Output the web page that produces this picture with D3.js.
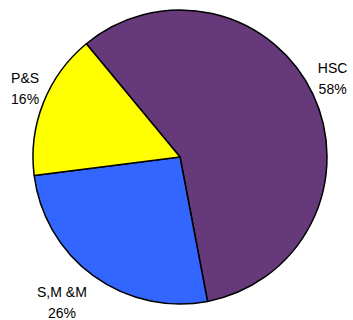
<!DOCTYPE html>
<html lang="en">
<head>
    <meta charset="UTF-8" />
    <title>Pie</title>
    <script src="https://d3js.org/d3.v7.min.js"></script>
    <style>
        body { margin: 0; background: #fff; }
        text { font-family: "Liberation Sans", Arial, sans-serif; font-size: 14px; fill: #000; }
    </style>
</head>
<body>
    <svg id="chart"></svg>
    <script>
        const labels = ["HSC", "S,M &M", "P&S"];
        const values = [58, 26, 16];
        const colors = ["#663a7a", "#3366ff", "#ffff00"];

        const width = 353, height = 320;
        const cx = 180, cy = 157, r = 147;

        const svg = d3.select("#chart")
            .attr("width", width)
            .attr("height", height);

        const g = svg.append("g").attr("transform", `translate(${cx},${cy})`);

        // start so that the P&S / HSC edge points up-left
        const start = -39.6 * Math.PI / 180;
        const pie = d3.pie().sort(null).value(d => d)
            .startAngle(start).endAngle(start + 2 * Math.PI);
        const arcs = pie(values);

        const arc = d3.arc().innerRadius(0).outerRadius(r);

        g.selectAll("path")
            .data(arcs)
            .enter().append("path")
            .attr("d", arc)
            .attr("fill", (d, i) => colors[i])
            .attr("stroke", "#000")
            .attr("stroke-width", 1.5)
            .attr("stroke-linejoin", "round");

        // labels sit just outside the rim
        const labelArc = d3.arc().innerRadius(172).outerRadius(172);
        const nudge = [[-3, -5], [-17, 7], [5, -5]];

        const lab = g.selectAll("g.lab")
            .data(arcs)
            .enter().append("g")
            .attr("class", "lab")
            .attr("transform", (d, i) => {
                const [x, y] = labelArc.centroid(d);
                return `translate(${x + nudge[i][0]},${y + nudge[i][1]})`;
            });

        lab.append("text")
            .attr("text-anchor", "middle")
            .attr("y", -6)
            .text((d, i) => labels[i]);

        lab.append("text")
            .attr("text-anchor", "middle")
            .attr("y", 15)
            .text((d, i) => values[i] + "%");
    </script>
</body>
</html>
